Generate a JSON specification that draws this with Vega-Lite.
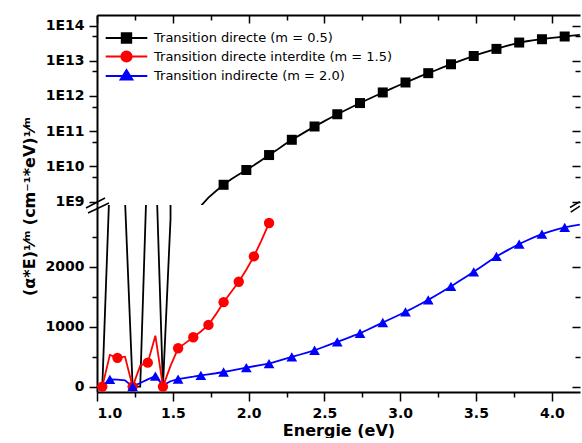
{
  "$schema": "https://vega.github.io/schema/vega-lite/v6.json",
  "padding": {"left": 21, "top": 14, "right": 0, "bottom": 0},
  "background": "white",
  "config": {
    "font": "DejaVu Sans",
    "view": {"stroke": null},
    "axis": {
      "grid": false,
      "labelFont": "DejaVu Sans",
      "labelFontWeight": "bold",
      "labelFontSize": 14,
      "labelColor": "black",
      "domainColor": "black",
      "domainWidth": 2,
      "tickColor": "black",
      "tickWidth": 1.5,
      "titleFont": "DejaVu Sans",
      "titleFontWeight": "bold",
      "titleFontSize": 16,
      "titleColor": "black"
    },
    "legend": {"labelFont": "DejaVu Sans", "labelFontSize": 13, "labelColor": "black"}
  },
  "datasets": {
    "d": [
      {"serie": "Transition directe (m = 0.5)", "E": 1.035, "val": 0, "pt": false},
      {"serie": "Transition directe (m = 0.5)", "E": 1.085, "val": 3500, "pt": false},
      {"serie": "Transition directe (m = 0.5)", "E": 1.135, "val": 6000, "pt": false},
      {"serie": "Transition directe (m = 0.5)", "E": 1.185, "val": 3100, "pt": false},
      {"serie": "Transition directe (m = 0.5)", "E": 1.235, "val": 0, "pt": false},
      {"serie": "Transition directe (m = 0.5)", "E": 1.285, "val": 0, "pt": false},
      {"serie": "Transition directe (m = 0.5)", "E": 1.335, "val": 4000, "pt": false},
      {"serie": "Transition directe (m = 0.5)", "E": 1.385, "val": 4000, "pt": false},
      {"serie": "Transition directe (m = 0.5)", "E": 1.435, "val": 0, "pt": false},
      {"serie": "Transition directe (m = 0.5)", "E": 1.485, "val": 2800, "pt": false},
      {"serie": "Transition directe (m = 0.5)", "E": 1.535, "val": 2e7, "pt": false},
      {"serie": "Transition directe (m = 0.5)", "E": 1.585, "val": 6e7, "pt": false},
      {"serie": "Transition directe (m = 0.5)", "E": 1.635, "val": 3.5e8, "pt": false},
      {"serie": "Transition directe (m = 0.5)", "E": 1.685, "val": 7.5e8, "pt": false},
      {"serie": "Transition directe (m = 0.5)", "E": 1.735, "val": 1.3e9, "pt": false},
      {"serie": "Transition directe (m = 0.5)", "E": 1.785, "val": 2.0e9, "pt": false},
      {"serie": "Transition directe (m = 0.5)", "E": 1.835, "val": 3.0e9, "pt": true},
      {"serie": "Transition directe (m = 0.5)", "E": 1.885, "val": 4.3e9, "pt": false},
      {"serie": "Transition directe (m = 0.5)", "E": 1.935, "val": 5.9e9, "pt": false},
      {"serie": "Transition directe (m = 0.5)", "E": 1.985, "val": 7.9e9, "pt": true},
      {"serie": "Transition directe (m = 0.5)", "E": 2.035, "val": 1.08e10, "pt": false},
      {"serie": "Transition directe (m = 0.5)", "E": 2.085, "val": 1.5e10, "pt": false},
      {"serie": "Transition directe (m = 0.5)", "E": 2.135, "val": 2.1e10, "pt": true},
      {"serie": "Transition directe (m = 0.5)", "E": 2.185, "val": 2.9e10, "pt": false},
      {"serie": "Transition directe (m = 0.5)", "E": 2.235, "val": 4.1e10, "pt": false},
      {"serie": "Transition directe (m = 0.5)", "E": 2.285, "val": 5.7e10, "pt": true},
      {"serie": "Transition directe (m = 0.5)", "E": 2.335, "val": 7.6e10, "pt": false},
      {"serie": "Transition directe (m = 0.5)", "E": 2.385, "val": 1.02e11, "pt": false},
      {"serie": "Transition directe (m = 0.5)", "E": 2.435, "val": 1.36e11, "pt": true},
      {"serie": "Transition directe (m = 0.5)", "E": 2.485, "val": 1.78e11, "pt": false},
      {"serie": "Transition directe (m = 0.5)", "E": 2.535, "val": 2.33e11, "pt": false},
      {"serie": "Transition directe (m = 0.5)", "E": 2.585, "val": 3.03e11, "pt": true},
      {"serie": "Transition directe (m = 0.5)", "E": 2.635, "val": 3.88e11, "pt": false},
      {"serie": "Transition directe (m = 0.5)", "E": 2.685, "val": 4.95e11, "pt": false},
      {"serie": "Transition directe (m = 0.5)", "E": 2.735, "val": 6.3e11, "pt": true},
      {"serie": "Transition directe (m = 0.5)", "E": 2.785, "val": 7.95e11, "pt": false},
      {"serie": "Transition directe (m = 0.5)", "E": 2.835, "val": 1.0e12, "pt": false},
      {"serie": "Transition directe (m = 0.5)", "E": 2.885, "val": 1.26e12, "pt": true},
      {"serie": "Transition directe (m = 0.5)", "E": 2.935, "val": 1.56e12, "pt": false},
      {"serie": "Transition directe (m = 0.5)", "E": 2.985, "val": 1.95e12, "pt": false},
      {"serie": "Transition directe (m = 0.5)", "E": 3.035, "val": 2.42e12, "pt": true},
      {"serie": "Transition directe (m = 0.5)", "E": 3.085, "val": 2.98e12, "pt": false},
      {"serie": "Transition directe (m = 0.5)", "E": 3.135, "val": 3.65e12, "pt": false},
      {"serie": "Transition directe (m = 0.5)", "E": 3.185, "val": 4.45e12, "pt": true},
      {"serie": "Transition directe (m = 0.5)", "E": 3.235, "val": 5.4e12, "pt": false},
      {"serie": "Transition directe (m = 0.5)", "E": 3.285, "val": 6.6e12, "pt": false},
      {"serie": "Transition directe (m = 0.5)", "E": 3.335, "val": 7.97e12, "pt": true},
      {"serie": "Transition directe (m = 0.5)", "E": 3.385, "val": 9.6e12, "pt": false},
      {"serie": "Transition directe (m = 0.5)", "E": 3.435, "val": 1.15e13, "pt": false},
      {"serie": "Transition directe (m = 0.5)", "E": 3.485, "val": 1.37e13, "pt": true},
      {"serie": "Transition directe (m = 0.5)", "E": 3.535, "val": 1.62e13, "pt": false},
      {"serie": "Transition directe (m = 0.5)", "E": 3.585, "val": 1.89e13, "pt": false},
      {"serie": "Transition directe (m = 0.5)", "E": 3.635, "val": 2.18e13, "pt": true},
      {"serie": "Transition directe (m = 0.5)", "E": 3.685, "val": 2.52e13, "pt": false},
      {"serie": "Transition directe (m = 0.5)", "E": 3.735, "val": 2.9e13, "pt": false},
      {"serie": "Transition directe (m = 0.5)", "E": 3.785, "val": 3.3e13, "pt": true},
      {"serie": "Transition directe (m = 0.5)", "E": 3.835, "val": 3.59e13, "pt": false},
      {"serie": "Transition directe (m = 0.5)", "E": 3.885, "val": 3.85e13, "pt": false},
      {"serie": "Transition directe (m = 0.5)", "E": 3.935, "val": 4.1e13, "pt": true},
      {"serie": "Transition directe (m = 0.5)", "E": 3.985, "val": 4.38e13, "pt": false},
      {"serie": "Transition directe (m = 0.5)", "E": 4.035, "val": 4.65e13, "pt": false},
      {"serie": "Transition directe (m = 0.5)", "E": 4.085, "val": 4.9e13, "pt": true},
      {"serie": "Transition directe (m = 0.5)", "E": 4.135, "val": 5.2e13, "pt": false},
      {"serie": "Transition directe (m = 0.5)", "E": 4.185, "val": 5.45e13, "pt": false},
      {"serie": "Transition directe interdite (m = 1.5)", "E": 1.035, "val": 0, "pt": true},
      {"serie": "Transition directe interdite (m = 1.5)", "E": 1.085, "val": 530, "pt": false},
      {"serie": "Transition directe interdite (m = 1.5)", "E": 1.135, "val": 480, "pt": true},
      {"serie": "Transition directe interdite (m = 1.5)", "E": 1.185, "val": 500, "pt": false},
      {"serie": "Transition directe interdite (m = 1.5)", "E": 1.235, "val": 0, "pt": true},
      {"serie": "Transition directe interdite (m = 1.5)", "E": 1.285, "val": 350, "pt": false},
      {"serie": "Transition directe interdite (m = 1.5)", "E": 1.335, "val": 400, "pt": true},
      {"serie": "Transition directe interdite (m = 1.5)", "E": 1.385, "val": 850, "pt": false},
      {"serie": "Transition directe interdite (m = 1.5)", "E": 1.435, "val": 0, "pt": true},
      {"serie": "Transition directe interdite (m = 1.5)", "E": 1.485, "val": 345, "pt": false},
      {"serie": "Transition directe interdite (m = 1.5)", "E": 1.535, "val": 640, "pt": true},
      {"serie": "Transition directe interdite (m = 1.5)", "E": 1.585, "val": 730, "pt": false},
      {"serie": "Transition directe interdite (m = 1.5)", "E": 1.635, "val": 824, "pt": true},
      {"serie": "Transition directe interdite (m = 1.5)", "E": 1.685, "val": 920, "pt": false},
      {"serie": "Transition directe interdite (m = 1.5)", "E": 1.735, "val": 1030, "pt": true},
      {"serie": "Transition directe interdite (m = 1.5)", "E": 1.785, "val": 1210, "pt": false},
      {"serie": "Transition directe interdite (m = 1.5)", "E": 1.835, "val": 1410, "pt": true},
      {"serie": "Transition directe interdite (m = 1.5)", "E": 1.885, "val": 1580, "pt": false},
      {"serie": "Transition directe interdite (m = 1.5)", "E": 1.935, "val": 1750, "pt": true},
      {"serie": "Transition directe interdite (m = 1.5)", "E": 1.985, "val": 1950, "pt": false},
      {"serie": "Transition directe interdite (m = 1.5)", "E": 2.035, "val": 2174, "pt": true},
      {"serie": "Transition directe interdite (m = 1.5)", "E": 2.085, "val": 2440, "pt": false},
      {"serie": "Transition directe interdite (m = 1.5)", "E": 2.135, "val": 2731, "pt": true},
      {"serie": "Transition indirecte (m = 2.0)", "E": 1.035, "val": 0, "pt": false},
      {"serie": "Transition indirecte (m = 2.0)", "E": 1.085, "val": 120, "pt": true},
      {"serie": "Transition indirecte (m = 2.0)", "E": 1.135, "val": 115, "pt": false},
      {"serie": "Transition indirecte (m = 2.0)", "E": 1.185, "val": 105, "pt": false},
      {"serie": "Transition indirecte (m = 2.0)", "E": 1.235, "val": 0, "pt": true},
      {"serie": "Transition indirecte (m = 2.0)", "E": 1.285, "val": 60, "pt": false},
      {"serie": "Transition indirecte (m = 2.0)", "E": 1.335, "val": 120, "pt": false},
      {"serie": "Transition indirecte (m = 2.0)", "E": 1.385, "val": 175, "pt": true},
      {"serie": "Transition indirecte (m = 2.0)", "E": 1.435, "val": 20, "pt": false},
      {"serie": "Transition indirecte (m = 2.0)", "E": 1.485, "val": 90, "pt": false},
      {"serie": "Transition indirecte (m = 2.0)", "E": 1.535, "val": 125, "pt": true},
      {"serie": "Transition indirecte (m = 2.0)", "E": 1.585, "val": 145, "pt": false},
      {"serie": "Transition indirecte (m = 2.0)", "E": 1.635, "val": 165, "pt": false},
      {"serie": "Transition indirecte (m = 2.0)", "E": 1.685, "val": 189, "pt": true},
      {"serie": "Transition indirecte (m = 2.0)", "E": 1.735, "val": 205, "pt": false},
      {"serie": "Transition indirecte (m = 2.0)", "E": 1.785, "val": 223, "pt": false},
      {"serie": "Transition indirecte (m = 2.0)", "E": 1.835, "val": 244, "pt": true},
      {"serie": "Transition indirecte (m = 2.0)", "E": 1.885, "val": 268, "pt": false},
      {"serie": "Transition indirecte (m = 2.0)", "E": 1.935, "val": 292, "pt": false},
      {"serie": "Transition indirecte (m = 2.0)", "E": 1.985, "val": 318, "pt": true},
      {"serie": "Transition indirecte (m = 2.0)", "E": 2.035, "val": 340, "pt": false},
      {"serie": "Transition indirecte (m = 2.0)", "E": 2.085, "val": 362, "pt": false},
      {"serie": "Transition indirecte (m = 2.0)", "E": 2.135, "val": 385, "pt": true},
      {"serie": "Transition indirecte (m = 2.0)", "E": 2.185, "val": 420, "pt": false},
      {"serie": "Transition indirecte (m = 2.0)", "E": 2.235, "val": 457, "pt": false},
      {"serie": "Transition indirecte (m = 2.0)", "E": 2.285, "val": 495, "pt": true},
      {"serie": "Transition indirecte (m = 2.0)", "E": 2.335, "val": 532, "pt": false},
      {"serie": "Transition indirecte (m = 2.0)", "E": 2.385, "val": 569, "pt": false},
      {"serie": "Transition indirecte (m = 2.0)", "E": 2.435, "val": 607, "pt": true},
      {"serie": "Transition indirecte (m = 2.0)", "E": 2.485, "val": 653, "pt": false},
      {"serie": "Transition indirecte (m = 2.0)", "E": 2.535, "val": 700, "pt": false},
      {"serie": "Transition indirecte (m = 2.0)", "E": 2.585, "val": 746, "pt": true},
      {"serie": "Transition indirecte (m = 2.0)", "E": 2.635, "val": 794, "pt": false},
      {"serie": "Transition indirecte (m = 2.0)", "E": 2.685, "val": 842, "pt": false},
      {"serie": "Transition indirecte (m = 2.0)", "E": 2.735, "val": 891, "pt": true},
      {"serie": "Transition indirecte (m = 2.0)", "E": 2.785, "val": 950, "pt": false},
      {"serie": "Transition indirecte (m = 2.0)", "E": 2.835, "val": 1010, "pt": false},
      {"serie": "Transition indirecte (m = 2.0)", "E": 2.885, "val": 1070, "pt": true},
      {"serie": "Transition indirecte (m = 2.0)", "E": 2.935, "val": 1129, "pt": false},
      {"serie": "Transition indirecte (m = 2.0)", "E": 2.985, "val": 1188, "pt": false},
      {"serie": "Transition indirecte (m = 2.0)", "E": 3.035, "val": 1247, "pt": true},
      {"serie": "Transition indirecte (m = 2.0)", "E": 3.085, "val": 1313, "pt": false},
      {"serie": "Transition indirecte (m = 2.0)", "E": 3.135, "val": 1380, "pt": false},
      {"serie": "Transition indirecte (m = 2.0)", "E": 3.185, "val": 1448, "pt": true},
      {"serie": "Transition indirecte (m = 2.0)", "E": 3.235, "val": 1522, "pt": false},
      {"serie": "Transition indirecte (m = 2.0)", "E": 3.285, "val": 1597, "pt": false},
      {"serie": "Transition indirecte (m = 2.0)", "E": 3.335, "val": 1672, "pt": true},
      {"serie": "Transition indirecte (m = 2.0)", "E": 3.385, "val": 1753, "pt": false},
      {"serie": "Transition indirecte (m = 2.0)", "E": 3.435, "val": 1834, "pt": false},
      {"serie": "Transition indirecte (m = 2.0)", "E": 3.485, "val": 1916, "pt": true},
      {"serie": "Transition indirecte (m = 2.0)", "E": 3.535, "val": 2002, "pt": false},
      {"serie": "Transition indirecte (m = 2.0)", "E": 3.585, "val": 2088, "pt": false},
      {"serie": "Transition indirecte (m = 2.0)", "E": 3.635, "val": 2174, "pt": true},
      {"serie": "Transition indirecte (m = 2.0)", "E": 3.685, "val": 2245, "pt": false},
      {"serie": "Transition indirecte (m = 2.0)", "E": 3.735, "val": 2315, "pt": false},
      {"serie": "Transition indirecte (m = 2.0)", "E": 3.785, "val": 2380, "pt": true},
      {"serie": "Transition indirecte (m = 2.0)", "E": 3.835, "val": 2440, "pt": false},
      {"serie": "Transition indirecte (m = 2.0)", "E": 3.885, "val": 2495, "pt": false},
      {"serie": "Transition indirecte (m = 2.0)", "E": 3.935, "val": 2547, "pt": true},
      {"serie": "Transition indirecte (m = 2.0)", "E": 3.985, "val": 2587, "pt": false},
      {"serie": "Transition indirecte (m = 2.0)", "E": 4.035, "val": 2625, "pt": false},
      {"serie": "Transition indirecte (m = 2.0)", "E": 4.085, "val": 2659, "pt": true},
      {"serie": "Transition indirecte (m = 2.0)", "E": 4.135, "val": 2685, "pt": false},
      {"serie": "Transition indirecte (m = 2.0)", "E": 4.185, "val": 2705, "pt": false}
    ]
  },
  "vconcat": [
    {
      "width": 483,
      "height": 190,
      "layer": [
        {
          "data": {"name": "d"},
          "transform": [{"filter": "datum.serie === 'Transition directe (m = 0.5)' && datum.val > 0"}],
          "mark": {"type": "line", "clip": true, "strokeWidth": 1.8},
          "encoding": {
            "x": {
              "field": "E", "type": "quantitative",
              "scale": {"domain": [1, 4.186], "nice": false, "zero": false},
              "axis": {
                "orient": "top", "title": null, "labels": false,
                "values": [1, 1.25, 1.5, 1.75, 2, 2.25, 2.5, 2.75, 3, 3.25, 3.5, 3.75, 4],
                "tickSize": {"condition": {"test": "abs(datum.value*2 - round(datum.value*2)) < 0.001", "value": -8}, "value": -5}
              }
            },
            "y": {
              "field": "val", "type": "quantitative",
              "scale": {"type": "log", "domain": [8e8, 2e14], "nice": false},
              "axis": {
                "orient": "left",
                "values": [1e9, 5e9, 1e10, 5e10, 1e11, 5e11, 1e12, 5e12, 1e13, 5e13, 1e14],
                "labelExpr": "abs(log(datum.value)/LN10 - round(log(datum.value)/LN10)) < 0.01 ? '1E' + round(log(datum.value)/LN10) : ''",
                "tickSize": {"condition": {"test": "abs(log(datum.value)/LN10 - round(log(datum.value)/LN10)) < 0.01", "value": 8}, "value": 5},
                "labelPadding": 5,
                "title": "(α*E)¹⁄ᵐ    (cm⁻¹*eV)¹⁄ᵐ",
                "titleX": -60,
                "titleY": 191
              }
            },
            "color": {
              "field": "serie", "type": "nominal",
              "scale": {
                "domain": ["Transition directe (m = 0.5)", "Transition directe interdite (m = 1.5)", "Transition indirecte (m = 2.0)"],
                "range": ["#000000", "#ff0000", "#0000ff"]
              },
              "legend": {
                "orient": "none", "legendX": 20.5, "legendY": 14,
                "title": null, "padding": 0,
                "symbolSize": 256, "labelOffset": 18.5, "rowPadding": 0.5,
                "labelFontSize": 13, "labelLimit": 400,
                "encode": {
                  "symbols": {
                    "update": {
                      "shape": {"signal": "datum.value === 'Transition directe (m = 0.5)' ? 'M-2.6,0H2.6M-0.6,-0.6H0.6V0.6H-0.6Z' : datum.value === 'Transition directe interdite (m = 1.5)' ? 'M-2.6,0H2.6M0.65,0A0.65,0.65,0,1,1,-0.65,0A0.65,0.65,0,1,1,0.65,0Z' : 'M-2.6,0H2.6M0,-0.75L0.75,0.45H-0.75Z'"},
                      "fill": {"signal": "datum.value === 'Transition directe (m = 0.5)' ? '#000000' : datum.value === 'Transition directe interdite (m = 1.5)' ? '#ff0000' : '#0000ff'"},
                      "stroke": {"signal": "datum.value === 'Transition directe (m = 0.5)' ? '#000000' : datum.value === 'Transition directe interdite (m = 1.5)' ? '#ff0000' : '#0000ff'"},
                      "strokeWidth": {"value": 1.8},
                      "opacity": {"value": 1},
                      "fillOpacity": {"value": 1}
                    }
                  }
                }
              }
            }
          }
        },
        {
          "data": {"name": "d"},
          "transform": [{"filter": "datum.serie === 'Transition directe (m = 0.5)' && datum.pt"}],
          "mark": {"type": "point", "shape": "square", "filled": true, "size": 100, "color": "#000000", "opacity": 1, "clip": true},
          "encoding": {
            "x": {"field": "E", "type": "quantitative", "axis": null},
            "y": {
              "field": "val", "type": "quantitative",
              "axis": {
                "orient": "right", "labels": false, "title": null, "domain": false,
                "values": [1e9, 5e9, 1e10, 5e10, 1e11, 5e11, 1e12, 5e12, 1e13, 5e13, 1e14],
                "tickSize": {"condition": {"test": "abs(log(datum.value)/LN10 - round(log(datum.value)/LN10)) < 0.01", "value": -8}, "value": -5}
              }
            }
          }
        },
        {
          "data": {"values": [{}]},
          "mark": {"type": "rule", "color": "black", "strokeWidth": 1.5},
          "encoding": {
            "x": {"datum": 0.9275, "type": "quantitative", "axis": null},
            "x2": {"datum": 1.0527},
            "y": {"datum": 6.57e8, "type": "quantitative", "axis": null},
            "y2": {"datum": 1.265e9}
          }
        },
        {
          "data": {"values": [{}]},
          "mark": {"type": "rule", "color": "black", "strokeWidth": 1.5},
          "encoding": {
            "x": {"datum": 0.9407, "type": "quantitative", "axis": null},
            "x2": {"datum": 1.079},
            "y": {"datum": 4.74e8, "type": "quantitative", "axis": null},
            "y2": {"datum": 9.12e8}
          }
        },
        {
          "data": {"values": [{}]},
          "mark": {"type": "rule", "color": "black", "strokeWidth": 1.5},
          "encoding": {
            "x": {"datum": 4.12, "type": "quantitative", "axis": null},
            "x2": {"datum": 4.185},
            "y": {"datum": 6.8e8, "type": "quantitative", "axis": null},
            "y2": {"datum": 1.0e9}
          }
        },
        {
          "data": {"values": [{}]},
          "mark": {"type": "rule", "color": "black", "strokeWidth": 1.5},
          "encoding": {
            "x": {"datum": 4.125, "type": "quantitative", "axis": null},
            "x2": {"datum": 4.185},
            "y": {"datum": 5.0e8, "type": "quantitative", "axis": null},
            "y2": {"datum": 7.4e8}
          }
        }
      ],
      "resolve": {"axis": {"y": "independent", "x": "independent"}}
    },
    {
      "width": 483,
      "height": 187,
      "layer": [
        {
          "data": {"name": "d"},
          "transform": [{"filter": "datum.val < 1e8"}],
          "mark": {"type": "line", "clip": true, "strokeWidth": 1.8},
          "encoding": {
            "x": {
              "field": "E", "type": "quantitative",
              "scale": {"domain": [1, 4.186], "nice": false, "zero": false},
              "axis": {
                "orient": "bottom", "title": "Energie (eV)", "format": ".1f",
                "values": [1, 1.25, 1.5, 1.75, 2, 2.25, 2.5, 2.75, 3, 3.25, 3.5, 3.75, 4],
                "labelExpr": "abs(datum.value*2 - round(datum.value*2)) < 0.001 ? datum.label : ''",
                "tickSize": {"condition": {"test": "abs(datum.value*2 - round(datum.value*2)) < 0.001", "value": 9}, "value": 5},
                "labelPadding": 5,
                "titlePadding": 2
              }
            },
            "y": {
              "field": "val", "type": "quantitative",
              "scale": {"domain": [-90, 3032], "nice": false, "zero": false},
              "axis": {
                "orient": "left", "title": null, "format": "d",
                "values": [0, 500, 1000, 1500, 2000, 2500],
                "labelExpr": "datum.value % 1000 === 0 ? datum.label : ''",
                "tickSize": {"condition": {"test": "datum.value % 1000 === 0", "value": 8}, "value": 5},
                "labelPadding": 5
              }
            },
            "color": {
              "field": "serie", "type": "nominal",
              "scale": {
                "domain": ["Transition directe (m = 0.5)", "Transition directe interdite (m = 1.5)", "Transition indirecte (m = 2.0)"],
                "range": ["#000000", "#ff0000", "#0000ff"]
              },
              "legend": null
            }
          }
        },
        {
          "data": {"name": "d"},
          "transform": [{"filter": "datum.pt && datum.val < 1e8"}],
          "mark": {"type": "point", "filled": true, "opacity": 1, "clip": true},
          "encoding": {
            "x": {"field": "E", "type": "quantitative", "axis": null},
            "y": {
              "field": "val", "type": "quantitative",
              "axis": {
                "orient": "right", "labels": false, "title": null, "domain": false,
                "values": [0, 500, 1000, 1500, 2000, 2500],
                "tickSize": {"condition": {"test": "datum.value % 1000 === 0", "value": -8}, "value": -5}
              }
            },
            "color": {"field": "serie", "type": "nominal", "legend": null},
            "shape": {
              "field": "serie", "type": "nominal",
              "scale": {
                "domain": ["Transition directe (m = 0.5)", "Transition directe interdite (m = 1.5)", "Transition indirecte (m = 2.0)"],
                "range": ["square", "circle", "triangle-up"]
              },
              "legend": null
            },
            "size": {
              "field": "serie", "type": "ordinal",
              "scale": {
                "domain": ["Transition directe (m = 0.5)", "Transition directe interdite (m = 1.5)", "Transition indirecte (m = 2.0)"],
                "range": [100, 115, 150]
              },
              "legend": null
            }
          }
        }
      ],
      "resolve": {"axis": {"y": "independent", "x": "independent"}}
    }
  ],
  "spacing": 0,
  "bounds": "flush",
  "resolve": {
    "scale": {"color": "independent", "x": "independent", "y": "independent"},
    "legend": {"color": "independent"}
  }
}
